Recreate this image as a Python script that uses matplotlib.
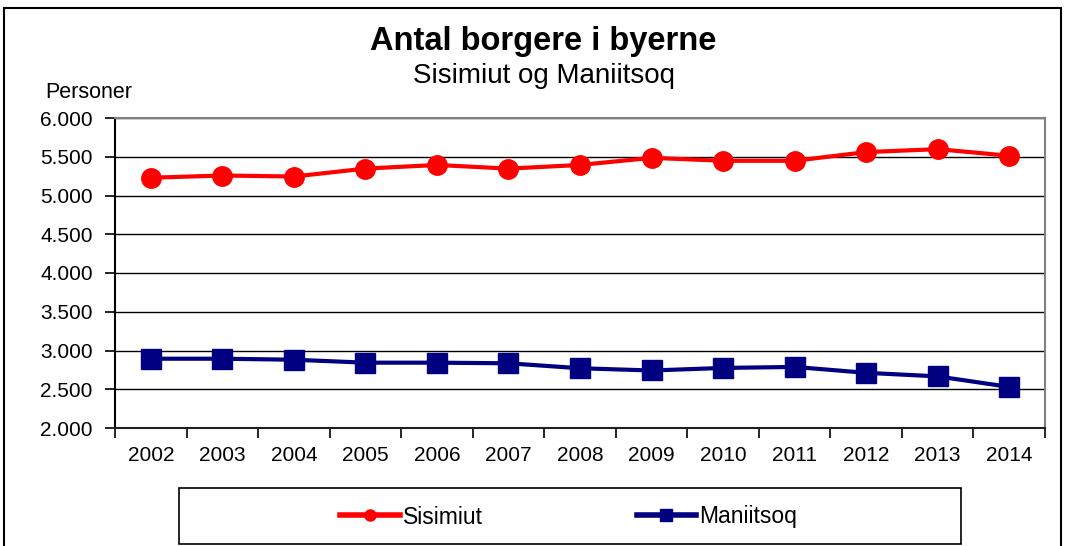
import matplotlib
matplotlib.use("Agg")
import matplotlib.pyplot as plt
from matplotlib.lines import Line2D
from matplotlib.patches import Rectangle
from matplotlib.ticker import FuncFormatter, FixedLocator

plt.rcParams['font.family'] = ['Liberation Sans', 'DejaVu Sans']

# data
years = ['2002', '2003', '2004', '2005', '2006', '2007', '2008',
         '2009', '2010', '2011', '2012', '2013', '2014']
sisimiut = [5229, 5258, 5245, 5347, 5394, 5347, 5394, 5486, 5448, 5448, 5560, 5598, 5513]
maniitsoq = [2894, 2894, 2881, 2843, 2843, 2835, 2771, 2742, 2775, 2788, 2712, 2666, 2530]

W, H = 1065, 546
fig = plt.figure(figsize=(W / 100, H / 100), dpi=100)
ax = fig.add_axes([115 / W, 1 - 428 / H, (1045 - 115) / W, (428 - 118) / H])

x = list(range(len(years)))
red = '#ff0000'
navy = '#000080'
ax.plot(x, sisimiut, color=red, lw=3, marker='o', ms=14, zorder=3)
ax.plot(x, maniitsoq, color=navy, lw=3, marker='s', ms=14, zorder=3)

# akser
ax.set_xlim(-0.5, len(years) - 0.5)
ax.set_ylim(2000, 6000)
ax.set_yticks(range(2000, 6001, 500))
ax.yaxis.set_major_formatter(FuncFormatter(lambda v, p: f"{v:,.0f}".replace(',', '.')))
ax.set_xticks(x)
ax.set_xticklabels(years)
ax.xaxis.set_minor_locator(FixedLocator([i - 0.5 for i in range(len(years) + 1)]))
ax.tick_params(axis='x', which='major', length=0, pad=13, labelsize=15)
ax.tick_params(axis='x', which='minor', length=7, width=1.2, direction='out')
ax.tick_params(axis='y', length=7, width=1.2, direction='out', pad=9, labelsize=15)

ax.grid(axis='y', color='black', lw=1)
ax.set_axisbelow(True)
for s in ['top', 'right']:
    ax.spines[s].set_color('#808080')
    ax.spines[s].set_linewidth(1.5)
ax.spines['left'].set_color('black')
ax.spines['left'].set_linewidth(1.5)
ax.spines['bottom'].set_color('#202020')
ax.spines['bottom'].set_linewidth(1.5)

# titler
fig.text(543 / W, 1 - 50 / H, 'Antal borgere i byerne', ha='center', va='baseline',
         fontsize=23.5, fontweight='bold')
fig.text(544 / W, 1 - 83 / H, 'Sisimiut og Maniitsoq', ha='center', va='baseline',
         fontsize=20)
fig.text(45 / W, 1 - 98 / H, 'Personer', ha='left', va='baseline', fontsize=15.5)

# ramme om figuren
fig.patches.append(Rectangle((4 / W, -0.1), (1061 - 4) / W, 1.1 - 8 / H,
                             transform=fig.transFigure, fill=False,
                             edgecolor='black', lw=1.5))

# legend
fig.patches.append(Rectangle((179 / W, 1 - 544 / H), (961 - 179) / W, (544 - 488) / H,
                             transform=fig.transFigure, fill=False,
                             edgecolor='black', lw=1.2))
handles = [Line2D([], [], color=red, lw=4, marker='o', ms=8),
           Line2D([], [], color=navy, lw=4, marker='s', ms=8)]
fig.legend(handles, ['Sisimiut', 'Maniitsoq'], loc='center left',
           bbox_to_anchor=(340 / W, 1 - 517 / H), ncol=2, frameon=False,
           fontsize=16.5, handlelength=2.6, handletextpad=0.15, columnspacing=6.7,
           borderpad=0, borderaxespad=0)

fig.savefig('out.png', dpi=100)
